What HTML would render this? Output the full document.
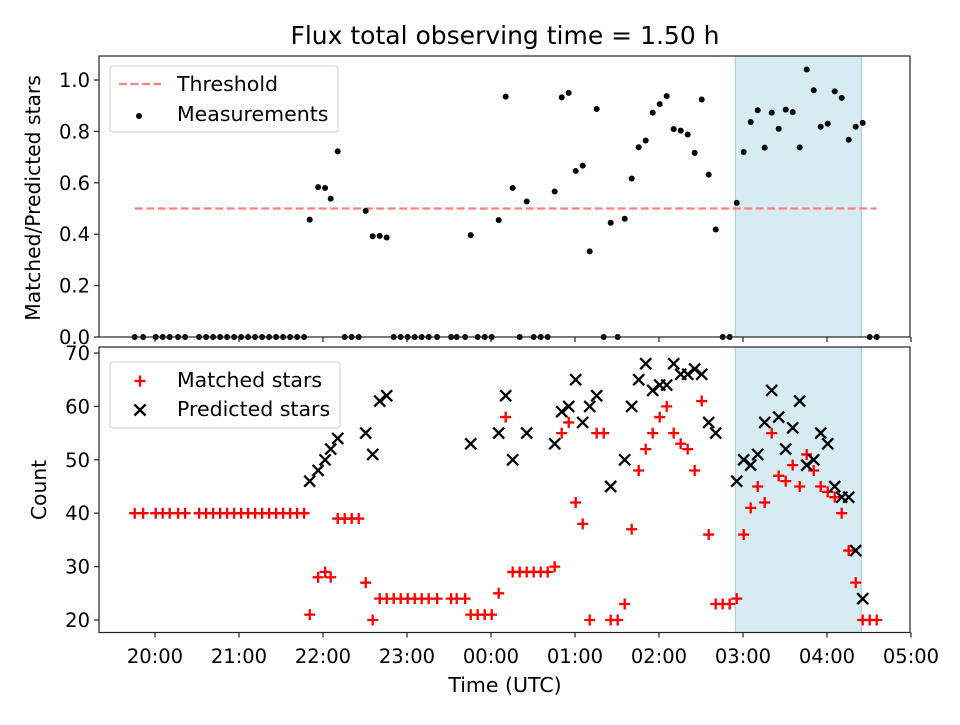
<!DOCTYPE html>
<html><head><meta charset="utf-8"><style>
html,body{margin:0;padding:0;background:#fff}
svg text{font-family:"DejaVu Sans","Liberation Sans",sans-serif;fill:#000}
</style></head><body>
<svg id="chart" width="960" height="720" viewBox="0 0 960 720" xmlns="http://www.w3.org/2000/svg"></svg>
<script>
const times = [-14.5,-8.5,0.5,5.5,10.5,16.5,21.5,31.5,36.5,41.5,46.5,51.5,56.5,61.5,66.5,71.5,76.5,81.5,86.5,91.5,96.5,101.5,106.5,
110.5,116.5,121.5,125.5,130.5,135.5,140.5,145.5,150.5,155.5,160.5,165.5,170.5,175.5,180.5,185.5,190.5,195.5,201.5,211.5,215.5,221.5,225.5,230.5,235.5,240.5,245.5,
250.5,255.5,260.5,265.5,270.5,275.5,280.5,285.5,290.5,295.5,300.5,305.5,310.5,315.5,320.5,325.5,330.5,335.5,340.5,345.5,350.5,355.5,360.5,365.5,370.5,375.5,380.5,385.5,390.5,395.5,400.5,405.5,410.5,415.5,420.5,425.5,430.5,435.5,440.5,445.5,450.5,455.5,460.5,465.5,470.5,475.5,480.5,485.5,490.5,495.5,500.5,505.5,510.5,515.5];
const matched = [40,40,40,40,40,40,40,40,40,40,40,40,40,40,40,40,40,40,40,40,40,40,40,
21,28,29,28,39,39,39,39,27,20,24,24,24,24,24,24,24,24,24,24,24,24,21,21,21,21,25,
58,29,29,29,29,29,29,30,55,57,42,38,20,55,55,20,20,23,37,48,52,55,58,60,55,53,52,48,61,36,23,23,23,24,36,41,45,42,55,47,46,49,45,51,48,45,44,43,40,33,27,20,20,20];
const predicted = [null,null,null,null,null,null,null,null,null,null,null,null,null,null,null,null,null,null,null,null,null,null,null,
46,48,50,52,54,null,null,null,55,51,61,62,null,null,null,null,null,null,null,null,null,null,53,null,null,null,55,
62,50,null,55,null,null,null,53,59,60,65,57,60,62,null,45,null,50,60,65,68,63,64,64,68,66,66,67,66,57,55,null,null,46,50,49,51,57,63,58,52,56,61,49,50,55,53,45,43,43,33,24,null,null];
const threshold = 0.5;
const shadeStart = 414.5, shadeEnd = 504.5;
const xTickVals = [0,60,120,180,240,300,360,420,480,540];
const xTickLabels = ["20:00","21:00","22:00","23:00","00:00","01:00","02:00","03:00","04:00","05:00"];
const topTicks = [0,0.2,0.4,0.6,0.8,1.0];
const topTickLabels = ["0.0","0.2","0.4","0.6","0.8","1.0"];
const botTicks = [20,30,40,50,60,70];

const svg = document.getElementById('chart');
const NS = 'http://www.w3.org/2000/svg';
function mk(tag, attrs, parent){const e=document.createElementNS(NS,tag);for(const k in attrs)e.setAttribute(k,attrs[k]);(parent||svg).appendChild(e);return e;}

const L=99,R=910;
const xS = t => 155 + t*1.4;
const topT=56, topB=337;
const yTop = v => 337 - v*257;
const botT=347, botB=632.5;
const yBot = v => 620 - (v-20)*5.34;
const FS = 19.5;

let s;
s=mk('rect',{x:xS(shadeStart),y:topT,width:xS(shadeEnd)-xS(shadeStart),height:topB-topT,fill:'#add8e6','fill-opacity':0.5,stroke:'#9ccbdb','stroke-width':1});


s=mk('rect',{x:xS(shadeStart),y:botT,width:xS(shadeEnd)-xS(shadeStart),height:botB-botT,fill:'#add8e6','fill-opacity':0.5,stroke:'#9ccbdb','stroke-width':1});



let th=mk('line',{x1:xS(times[0]),x2:xS(times[times.length-1]),y1:yTop(threshold),y2:yTop(threshold),stroke:'#ff7f7f','stroke-width':2.2,'stroke-dasharray':'8,3.5'});



const gTop=mk('g',{});


times.forEach((t,i)=>{
  const r = predicted[i]===null ? 0 : matched[i]/predicted[i];
  const c=mk('circle',{cx:xS(t),cy:yTop(r),r:3,fill:'#000'},gTop);
  
  
});

const gM=mk('g',{});


const gP=mk('g',{});


times.forEach((t,i)=>{
  const x=xS(t), y=yBot(matched[i]);
  const p=mk('path',{d:`M${x-5.5},${y}H${x+5.5}M${x},${y-5.5}V${y+5.5}`,stroke:'#ff0000','stroke-width':2.3,fill:'none'},gM);
  
  
  if(predicted[i]!==null){
    const yp=yBot(predicted[i]);
    const q=mk('path',{d:`M${x-5.5},${yp-5.5}L${x+5.5},${yp+5.5}M${x-5.5},${yp+5.5}L${x+5.5},${yp-5.5}`,stroke:'#000','stroke-width':2.3,fill:'none'},gP);
    
    
  }
});

let f=mk('rect',{x:L,y:topT,width:R-L,height:topB-topT,fill:'none',stroke:'#222','stroke-width':1.2});


f=mk('rect',{x:L,y:botT,width:R-L,height:botB-botT,fill:'none',stroke:'#222','stroke-width':1.2});



xTickVals.forEach((v,i)=>{
  const x=xS(v);
  mk('line',{x1:x,x2:x,y1:topB,y2:topB+5,stroke:'#222','stroke-width':1.2});
  mk('line',{x1:x,x2:x,y1:botB,y2:botB+5,stroke:'#222','stroke-width':1.2});
  const tx=mk('text',{x:x,y:663,'font-size':FS,'text-anchor':'middle'});
  tx.textContent=xTickLabels[i];
  
  
});
topTicks.forEach((v,i)=>{
  const y=yTop(v);
  mk('line',{x1:L-5,x2:L,y1:y,y2:y,stroke:'#222','stroke-width':1.2});
  const tx=mk('text',{x:L-9,y:y+7,'font-size':FS,'text-anchor':'end'});
  tx.textContent=topTickLabels[i];
  
  
});
botTicks.forEach(v=>{
  const y=yBot(v);
  mk('line',{x1:L-5,x2:L,y1:y,y2:y,stroke:'#222','stroke-width':1.2});
  const tx=mk('text',{x:L-9,y:y+7,'font-size':FS,'text-anchor':'end'});
  tx.textContent=String(v);
  
  
});
</script>
<svg width="960" height="720" style="position:absolute;left:0;top:0" xmlns="http://www.w3.org/2000/svg">
<text x="505" y="44" font-size="25" text-anchor="middle">Flux total observing time = 1.50 h</text>
<text transform="translate(40,198) rotate(-90)" font-size="20.3" text-anchor="middle">Matched/Predicted stars</text>
<text transform="translate(46,490) rotate(-90)" font-size="20.3" text-anchor="middle">Count</text>
<text x="505" y="692" font-size="20.5" text-anchor="middle">Time (UTC)</text>
<g>
<rect x="110" y="66" width="228" height="66" rx="3" fill="#fff" fill-opacity="0.8" stroke="#d0d0d0"/>
<line x1="119" x2="161" y1="84" y2="84" stroke="#ff7f7f" stroke-width="2.2" stroke-dasharray="8,3.5"/>
<text x="177" y="91" font-size="20.5">Threshold</text>
<circle cx="139" cy="116" r="3" fill="#000"/>
<text x="177" y="121" font-size="20.5">Measurements</text>
</g>
<g>
<rect x="110" y="362" width="230" height="66" rx="3" fill="#fff" fill-opacity="0.8" stroke="#d0d0d0"/>
<path d="M134.5,381H145.5M140,375.5V386.5" stroke="#f00" stroke-width="2.3"/>
<text x="177" y="387" font-size="20.5">Matched stars</text>
<path d="M134.5,404.5L145.5,415.5M134.5,415.5L145.5,404.5" stroke="#000" stroke-width="2.3"/>
<text x="177" y="416" font-size="20.5">Predicted stars</text>
</g>
</svg>
</body></html>
